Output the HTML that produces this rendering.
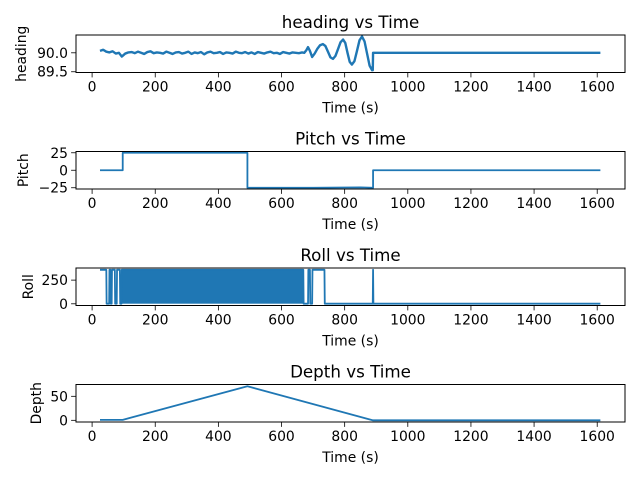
<!DOCTYPE html>
<html><head><meta charset="utf-8"><style>
html,body{margin:0;padding:0;background:#fff;}
svg{display:block;font-family:"DejaVu Sans","Liberation Sans",sans-serif;}
</style></head><body>
<svg id="fig" width="640" height="480" viewBox="0 0 640 480"></svg>
<script>
// ---- data ----
const xTicks = [0,200,400,600,800,1000,1200,1400,1600];
const headingT = [25,35,45,55,65,75,85,94,105,115,125,135,145,155,165,175,185,195,205,215,225,235,245,255,265,275,285,295,305,315,325,335,345,355,365,375,385,395,405,415,425,435,445,455,465,475,485,495,505,515,525,535,545,555,565,575,585,595,605,615,625,635,645,655,665,672,678,684,690,697,705,713,722,731,739,747,755,763,771,779,787,795,802,809,816,823,831,839,847,855,863,871,879,887,889,890,1610];
const headingV = [90.05,90.08,90.03,90.01,90.04,89.98,90.00,89.90,89.98,90.01,90.02,89.99,90.03,90.00,89.97,90.02,90.04,89.99,90.01,90.00,89.98,90.03,90.00,89.97,90.01,90.02,89.98,90.00,90.03,89.97,90.01,89.99,90.02,89.96,90.01,90.03,89.99,90.00,90.02,89.97,90.01,90.00,89.98,90.03,90.00,89.99,90.02,89.98,90.01,89.97,90.02,90.00,89.98,90.01,90.03,89.99,90.00,89.97,90.02,90.00,89.98,90.01,90.00,89.99,90.01,90.00,90.06,90.15,90.05,89.89,89.98,90.10,90.20,90.23,90.18,90.03,89.88,89.84,89.92,90.10,90.28,90.35,90.26,90.00,89.76,89.69,89.78,90.05,90.33,90.43,90.30,89.98,89.66,89.54,89.54,90.00,90.00];
const pitchT = [25,97,97,492,492,700,850,890,890,1610];
const pitchV = [0,0,25,25,-25,-25,-24.5,-25,0,0];
const rollT = [25,45,46,54,55,58,59,62,63,72,73,78,79,88,89,93,94,
669,670,684,685,690,691,697,698,720,722,736,737,889,890,891,892,1610];
const rollV = [359,359,1,1,359,359,1,1,359,359,1,1,359,359,1,1,359,
359,1,1,359,359,1,1,359,359,359,359,1,1,359,1,1,1];
// interval where roll flips rapidly between 1 and 359 (drawn as its envelope)
const rollBandStart = [94];
const rollBandEnd = [669];
const rollBandLow = [1];
const rollBandHigh = [359];
const depthT = [25,97,492,890,1610];
const depthV = [1,1,71,0,0];
const headingTicks = [89.5,90.0];
const pitchTicks = [-25,0,25];
const rollTicks = [0,250];
const depthTicks = [0,50];

// ---- layout ----
const NS = "http://www.w3.org/2000/svg";
const svg = document.getElementById('fig');
const L = 76, R = 625, XMIN = -51, XMAX = 1688;
function sx(t){ return L + (t - XMIN) / (XMAX - XMIN) * (R - L); }
function el(tag, attrs, parent){ const e = document.createElementNS(NS, tag); for (const k in attrs) e.setAttribute(k, attrs[k]); (parent||svg).appendChild(e); return e; }

const panels = [
  {key:'heading', title:'heading vs Time', ylabel:'heading', top:35, ymin:89.48, ymax:90.47, T:headingT, V:headingV, ticks:headingTicks, fmt:v=>v.toFixed(1), ylx:22, sw:2.4},
  {key:'pitch', title:'Pitch vs Time', ylabel:'Pitch', top:151.5, ymin:-26.8, ymax:26.8, T:pitchT, V:pitchV, ticks:pitchTicks, fmt:v=>v<0?'\u2212'+Math.abs(v):String(v), ylx:24, sw:1.8},
  {key:'roll', title:'Roll vs Time', ylabel:'Roll', top:268, ymin:-18, ymax:378, T:rollT, V:rollV, ticks:rollTicks, fmt:v=>String(v), ylx:29, sw:1.8},
  {key:'depth', title:'Depth vs Time', ylabel:'Depth', top:384.5, ymin:-3.5, ymax:74.6, T:depthT, V:depthV, ticks:depthTicks, fmt:v=>String(v), ylx:37, sw:1.8}
];
const H = 37.5;

panels.forEach(p => {
  const g = el('g', {});
  
  
  const top = p.top, bot = top + H;
  const sy = v => bot - (v - p.ymin) / (p.ymax - p.ymin) * H;
  const cp = el('clipPath', {id:'clip-'+p.key}, g);
  el('rect', {x:L, y:top, width:R-L, height:H}, cp);
  if (p.key === 'roll') {
    rollBandStart.forEach((s,i) => {
      const b = el('rect', {x:sx(s), y:sy(rollBandHigh[i]), width:sx(rollBandEnd[i])-sx(s), height:sy(rollBandLow[i])-sy(rollBandHigh[i]), fill:'#1f77b4', 'clip-path':'url(#clip-roll)'}, g);
      
      
    });
  }
  const pts = p.T.map((t,i)=> sx(t).toFixed(2)+','+sy(p.V[i]).toFixed(2)).join(' ');
  const line = el('polyline', {points:pts, fill:'none', stroke:'#1f77b4', 'stroke-width':p.sw, 'stroke-linejoin':'round', 'clip-path':'url(#clip-'+p.key+')'}, g);
  
  
  const fr = el('rect', {x:L, y:top, width:R-L, height:H, fill:'none', stroke:'#000', 'stroke-width':1}, g);
  
  
  xTicks.forEach(t => {
    const x = sx(t);
    el('line', {x1:x, y1:bot, x2:x, y2:bot+4.9, stroke:'#000', 'stroke-width':0.8}, g);
    const tx = el('text', {x:x, y:bot+19, 'font-size':13.9, 'text-anchor':'middle', fill:'#000'}, g);
    tx.textContent = String(t);
    
    
  });
  p.ticks.forEach(v => {
    const y = sy(v);
    el('line', {x1:L-4.9, y1:y, x2:L, y2:y, stroke:'#000', 'stroke-width':0.8}, g);
    const ty = el('text', {x:L-8, y:y+5, 'font-size':13.9, 'text-anchor':'end', fill:'#000'}, g);
    ty.textContent = p.fmt(v);
    
    
  });
  const tt = el('text', {x:(L+R)/2, y:top-7, 'font-size':16.7, 'text-anchor':'middle', fill:'#000'}, g);
  tt.textContent = p.title;
  
  
  const xl = el('text', {x:(L+R)/2, y:bot+40, 'font-size':13.9, 'text-anchor':'middle', fill:'#000'}, g);
  xl.textContent = 'Time (s)';
  
  
  const cy = top + H/2;
  const yl = el('text', {x:p.ylx, y:cy, 'font-size':13.9, 'text-anchor':'middle', fill:'#000', transform:'rotate(-90 '+p.ylx+' '+cy+')', 'dominant-baseline':'central'}, g);
  yl.textContent = p.ylabel;
  
  
});
</script>
</body></html>
